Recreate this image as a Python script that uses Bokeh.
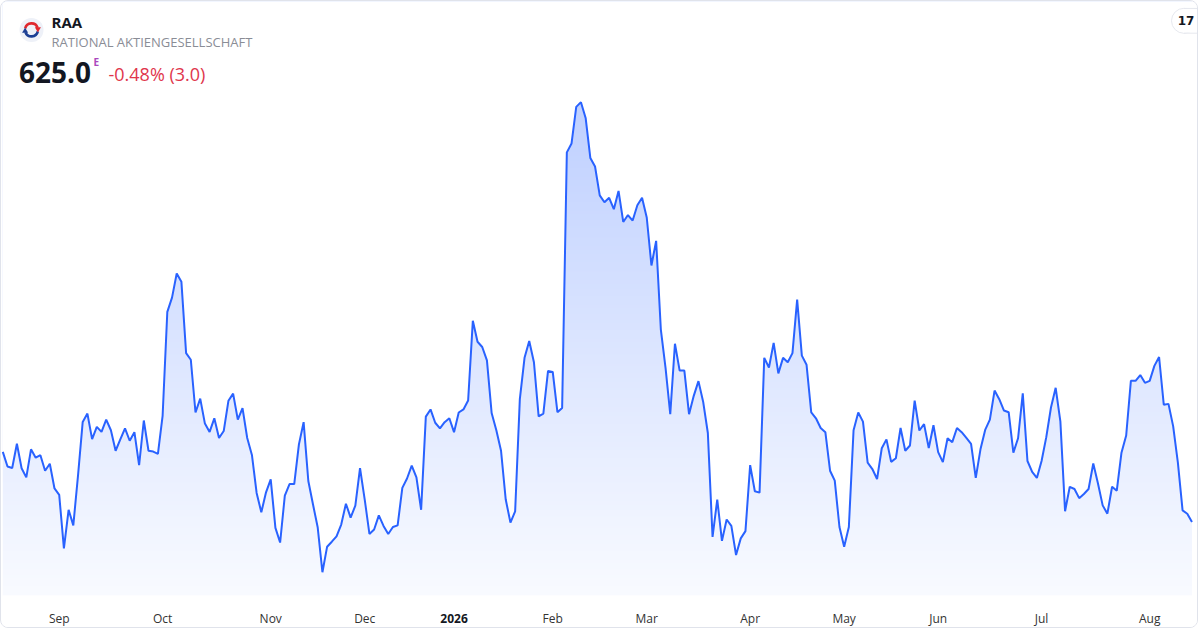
import numpy as np
import pandas as pd
from bokeh.plotting import figure
from bokeh.models import Range1d, FixedTicker, LinearAxis, ColumnDataSource
from bokeh.core.properties import value
from bokeh.embed import file_html
from bokeh.resources import INLINE

# ---------------- data ----------------
symbol = "RAA"
company = "RATIONAL AKTIENGESELLSCHAFT"
last_price = "625.0"
exchange_flag = "E"
change_text = "-0.48% (3.0)"
start_date = "2025-08-14"
end_date = "2026-08-14"
holidays = ["2025-12-24", "2025-12-25", "2025-12-26", "2025-12-31",
            "2026-01-01", "2026-04-03", "2026-04-06", "2026-05-01"]

prices = [
    650.3, 645.0, 644.5, 653.2, 644.4, 641.1, 651.2, 648.2, 649.1, 643.5,
    646.0, 637.1, 634.8, 615.5, 629.4, 623.8, 641.7, 661.1, 664.1, 654.9,
    659.3, 657.5, 661.9, 658.1, 650.7, 654.8, 658.8, 654.3, 657.4, 645.5,
    661.6, 650.7, 650.4, 649.6, 663.3, 700.8, 705.9, 714.6, 711.6, 685.9,
    683.5, 664.5, 669.5, 660.5, 657.5, 662.4, 655.3, 657.8, 668.7, 671.3,
    661.9, 666.1, 655.3, 649.2, 635.5, 628.5, 635.7, 640.4, 622.9, 617.6,
    634.5, 638.7, 638.7, 653.0, 661.0, 639.8, 631.3, 623.0, 606.9, 616.1,
    617.9, 619.8, 624.1, 631.6, 626.6, 630.9, 644.4, 633.1, 620.7, 622.3,
    627.4, 623.6, 620.7, 623.2, 623.8, 637.3, 640.7, 645.3, 641.1, 629.4,
    663.0, 665.6, 660.8, 658.8, 661.0, 662.4, 657.4, 664.5, 665.6, 668.8,
    697.6, 690.0, 688.1, 683.3, 664.3, 658.1, 650.7, 633.1, 624.8, 628.8,
    669.3, 684.2, 690.3, 682.6, 663.1, 664.1, 679.5, 679.1, 664.6, 666.1,
    758.3, 761.5, 774.7, 776.4, 770.7, 756.3, 753.2, 742.8, 740.3, 741.9,
    737.8, 744.4, 733.2, 735.7, 733.7, 739.2, 741.9, 734.8, 717.5, 726.4,
    694.4, 680.6, 663.9, 689.3, 679.6, 679.6, 663.9, 670.5, 675.8, 668.4,
    657.1, 619.6, 633.1, 618.2, 625.9, 623.6, 613.1, 619.1, 621.7, 645.5,
    636.1, 635.6, 684.2, 680.7, 689.6, 678.6, 684.2, 682.6, 685.9, 705.2,
    685.0, 681.7, 664.5, 662.4, 658.9, 657.4, 643.5, 639.9, 623.2, 616.1,
    623.2, 658.1, 664.5, 661.2, 646.4, 644.1, 640.5, 651.6, 654.8, 646.7,
    648.0, 658.9, 650.7, 652.6, 668.8, 658.0, 660.3, 651.7, 659.9, 650.2,
    646.6, 655.2, 653.8, 658.9, 657.4, 655.3, 653.2, 640.9, 651.2, 658.2,
    661.9, 672.4, 669.3, 665.2, 664.6, 650.0, 655.2, 671.4, 647.0, 643.1,
    640.9, 647.0, 655.6, 666.3, 673.4, 661.3, 628.9, 637.7, 636.9, 633.6,
    635.1, 636.9, 646.1, 638.9, 631.0, 628.0, 637.7, 636.3, 650.0, 656.2,
    675.9, 675.9, 678.0, 675.2, 675.9, 681.3, 684.5, 667.3, 667.6, 659.5,
    646.4, 629.2, 628.0, 625.0,
]

# ---------------- derived ----------------
dates = pd.bdate_range(start_date, end_date, freq="C", holidays=holidays)
n = len(prices)
dates = dates[:n]
idx = np.arange(n)

ticks = [i for i in range(1, n) if dates[i].month != dates[i - 1].month]
month_ticks = [i for i in ticks if dates[i].month != 1]
year_ticks = [i for i in ticks if dates[i].month == 1]
month_labels = {i: dates[i].strftime("%b") for i in month_ticks}
year_labels = {i: dates[i].strftime("%Y") for i in year_ticks}

W, H = 1198, 628
AXH = 28
FH = H - AXH
Y0, Y1 = 598.5, 812.7
X0, X1 = -0.277, n + 0.6
LABEL_H = 22

FONT = "Open Sans"
LINE = "#2962FF"

p = figure(width=W, height=H, output_backend="svg", toolbar_location=None,
           x_range=Range1d(X0, X1), y_range=Range1d(Y0, Y1),
           y_axis_location=None,
           min_border_left=0, min_border_right=0, min_border_top=0,
           min_border_bottom=AXH,
           background_fill_color="white", border_fill_color="white",
           outline_line_color=None,
           styles={"border": "1px solid #e0e3eb", "border-radius": "8px",
                   "overflow": "hidden"})
p.extra_x_ranges = {"px": Range1d(0, W)}
p.extra_y_ranges = {"px": Range1d(FH, 0)}
p.grid.visible = False

# gradient under the line
NR = 400
rows = np.linspace(Y0, Y1, NR)
t = np.clip((rows - Y0) / (max(prices) - Y0), 0, 1)
alpha = 0.03 + 0.27 * t
base = np.array([41, 98, 255])
rgb = 255 - alpha[:, None] * (255 - base)
img = np.zeros((NR, 1), dtype=np.uint32)
view = img.view(dtype=np.uint8).reshape((NR, 1, 4))
view[:, 0, 0:3] = np.round(rgb).astype(np.uint8)
view[:, 0, 3] = 255
p.image_rgba(image=[img], x=0, y=Y0, dw=n - 1, dh=Y1 - Y0)

src = ColumnDataSource(dict(x=idx, y=prices, top=np.full(n, Y1)))
p.varea(x="x", y1="y", y2="top", source=src, fill_color="white", fill_alpha=1.0)
p.line(x="x", y="y", source=src, line_color=LINE, line_width=2)


def style_axis(a, ticks_, labels_, standoff, bold=False):
    a.ticker = FixedTicker(ticks=ticks_)
    a.major_label_overrides = labels_
    a.axis_line_color = None
    a.major_tick_line_color = None
    a.minor_tick_line_color = None
    a.major_label_standoff = standoff
    a.major_label_text_font = FONT
    a.major_label_text_font_size = "12px"
    a.major_label_text_color = "#131722" if bold else "#333333"
    if bold:
        a.major_label_text_font_style = "bold"


style_axis(p.xaxis[0], month_ticks, month_labels, 8)
# second axis stacked below the month axis, pulled up onto the same row
year_axis = LinearAxis()
style_axis(year_axis, year_ticks, year_labels, -LABEL_H, bold=True)
p.add_layout(year_axis, "below")

# header
px = dict(x_range_name="px", y_range_name="px")
p.scatter([30.0], [28.7], size=24, marker="circle", fill_color="#eef1f8",
          line_color=None, **px)
p.arc([30.0], [28.7], radius=6.5, radius_units="screen", start_angle=0.35,
      end_angle=2.9, line_color="#e0282e", line_width=2.6, **px)
p.arc([30.0], [28.7], radius=6.5, radius_units="screen", start_angle=3.5,
      end_angle=6.05, line_color="#1b3f94", line_width=2.6, **px)
p.scatter([36.4], [27.7], size=6, marker="triangle", angle=3.14,
          fill_color="#e0282e", line_color=None, **px)
p.scatter([23.6], [29.7], size=6, marker="triangle", angle=0.0,
          fill_color="#1b3f94", line_color=None, **px)

txt = dict(text_font=value(FONT), text_baseline="middle", **px)
p.text([50.0], [20.6], text=[symbol], text_font_size="15px",
       text_font_style="bold", text_color="#131722", **txt)
p.text([50.0], [40.7], text=[company], text_font_size="13px",
       text_color="#8a8d96", **txt)
p.text([17.5], [71.4], text=[last_price], text_font_size="28px",
       text_font_style="bold", text_color="#131722", **txt)
p.text([92.0], [61.3], text=[exchange_flag], text_font_size="10px",
       text_font_style="bold", text_color="#ab47bc", **txt)
p.text([107.0], [73.4], text=[change_text], text_font_size="18px",
       text_color="#e0364c", **txt)

# TradingView badge
p.scatter([1182.5], [19.5], size=25, marker="circle", fill_color="white",
          line_color="#e6e8ee", **px)
p.rect([1192], [19.5], width=20, height=24, width_units="screen", height_units="screen",
       fill_color="white", line_color=None, **px)
p.segment([1182.5, 1182.5], [7.0, 32.0], [W, W], [7.0, 32.0], line_color="#e6e8ee",
          line_width=1, **px)
p.text([1184.5], [19.0], text=["17"], text_font=value("DejaVu Sans"), text_font_size="12px",
       text_font_style="bold", text_color="#131722", text_align="center",
       text_baseline="middle", **px)

open("out.html", "w").write(file_html(p, INLINE))
